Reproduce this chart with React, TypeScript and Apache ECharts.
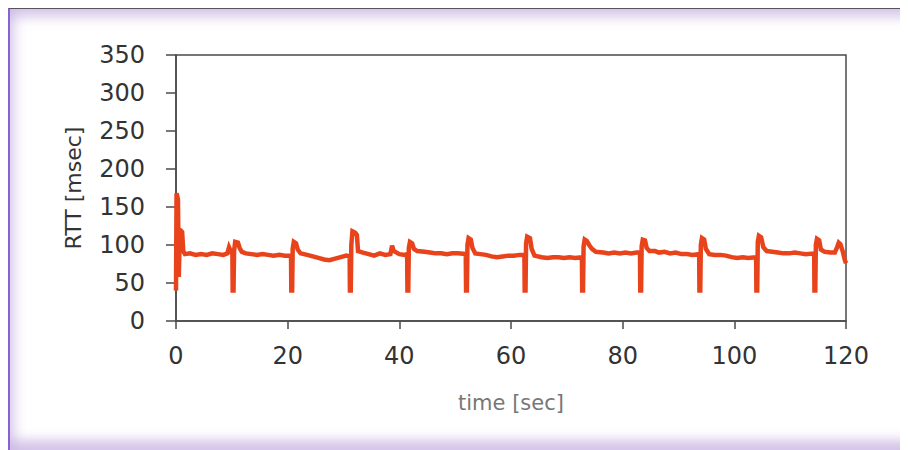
import React, { useEffect, useRef } from "react";
import * as echarts from "echarts";

const xTicks = [0, 20, 40, 60, 80, 100, 120];
const yTicks = [0, 50, 100, 150, 200, 250, 300, 350];

const timeSec = [
  0, 0.1, 0.35, 0.5, 0.7, 1.1, 1.3, 1.6, 2.5, 3.5, 4.5, 5.5, 6.5, 7.5, 8.5, 9.2, 9.5, 9.8, 10.1,
  10.15, 10.3, 10.4, 10.6, 11.1, 11.4, 11.8, 12.5, 13.5, 14.5, 15.5, 16.5, 17.5, 18.5, 19.5, 20.6,
  20.65, 20.8, 20.9, 21.1, 21.5, 21.8, 22.3, 23.5, 24.5, 25.5, 26.5, 27.5, 28.5, 29.5, 30.5, 31.1,
  31.15, 31.3, 31.4, 31.6, 32.1, 32.4, 32.6, 33.5, 34.5, 35.5, 36.5, 37.5, 38.4, 38.7, 39.0, 40.0, 41.0, 41.4,
  41.45, 41.6, 41.7, 41.9, 42.3, 42.6, 43.2, 44.5, 45.5, 46.5, 47.5, 48.5, 49.5, 50.5, 51.9,
  51.95, 52.1, 52.2, 52.4, 52.8, 53.1, 53.6, 54.5, 55.5, 56.5, 57.5, 58.5, 59.5, 60.5, 61.5, 62.4,
  62.45, 62.6, 62.7, 62.9, 63.4, 63.7, 64.2, 65.5, 66.5, 67.5, 68.5, 69.5, 70.5, 71.5, 72.7,
  72.75, 72.9, 73.0, 73.2, 73.6, 74.0, 74.5, 75.2, 76.5, 77.5, 78.5, 79.5, 80.5, 81.5, 82.5, 83.1,
  83.15, 83.3, 83.4, 83.6, 84.0, 84.3, 84.8, 85.8, 86.5, 87.5, 88.5, 89.5, 90.5, 91.5, 92.5, 93.7,
  93.75, 93.9, 94.0, 94.2, 94.6, 94.9, 95.5, 96.5, 97.5, 98.5, 99.5, 100.5, 101.5, 102.5, 103.9,
  103.95, 104.1, 104.2, 104.4, 104.8, 105.2, 105.8, 106.8, 107.8, 108.8, 109.8, 110.8, 111.8, 112.8, 114.3,
  114.35, 114.5, 114.6, 114.8, 115.2, 115.5, 116.2, 117.2, 118.0, 118.4, 118.7, 119.0, 119.4, 119.8, 120,
];

const rttMs = [
  40, 168, 160, 58, 120, 117, 92, 88, 89, 87, 88, 87, 89, 88, 87, 89, 97, 92, 88,
  40, 40, 92, 104, 103, 96, 91, 89, 88, 87, 88, 87, 86, 87, 86, 86,
  40, 40, 95, 104, 102, 94, 89, 87, 85, 83, 81, 80, 82, 84, 86, 85,
  40, 40, 100, 118, 116, 113, 92, 90, 88, 86, 89, 87, 88, 99, 92, 88, 87, 88,
  40, 40, 96, 104, 102, 95, 92, 91, 90, 89, 89, 88, 89, 89, 88,
  40, 40, 100, 109, 107, 96, 89, 88, 87, 85, 84, 85, 86, 86, 87, 87,
  40, 40, 102, 111, 109, 95, 86, 84, 83, 84, 84, 83, 84, 83, 84,
  40, 40, 98, 107, 105, 100, 95, 91, 90, 89, 90, 89, 90, 89, 90, 90,
  40, 40, 98, 107, 106, 96, 92, 92, 90, 91, 89, 90, 88, 88, 87, 88,
  40, 40, 100, 109, 107, 95, 88, 87, 87, 86, 84, 83, 84, 83, 84,
  40, 40, 104, 112, 110, 97, 92, 91, 90, 89, 89, 90, 89, 88, 89,
  40, 40, 100, 108, 106, 94, 91, 90, 90, 97, 103, 101, 92, 80, 76,
];

const seriesData = timeSec.map((t, i) => [t, rttMs[i]]);

export default function App() {
  const ref = useRef<HTMLDivElement>(null);
  useEffect(() => {
    if (!ref.current) return;
    const chart = echarts.init(ref.current, null, { renderer: "svg" });
    const labelFont = "DejaVu Sans";
    chart.setOption({
      animation: false,
      grid: {
        left: 168,
        top: 47,
        right: 62,
        bottom: 129,
        show: true,
        borderColor: "#4a4a4a",
        borderWidth: 1.5,
        backgroundColor: "transparent",
      },
      xAxis: {
        type: "value",
        min: xTicks[0],
        max: xTicks[xTicks.length - 1],
        interval: 20,
        name: "time [sec]",
        nameLocation: "middle",
        nameGap: 71,
        nameTextStyle: { fontFamily: labelFont, fontSize: 21, color: "#777" },
        axisLine: { show: true, lineStyle: { color: "#4a4a4a", width: 1.5 } },
        axisTick: { show: true, length: 8, lineStyle: { color: "#4a4a4a", width: 1.5 } },
        axisLabel: { fontFamily: labelFont, fontSize: 24, color: "#333", margin: 23 },
        splitLine: { show: false },
      },
      yAxis: {
        type: "value",
        min: yTicks[0],
        max: yTicks[yTicks.length - 1],
        interval: 50,
        name: "RTT [msec]",
        nameLocation: "middle",
        nameGap: 92,
        nameTextStyle: { fontFamily: labelFont, fontSize: 22, color: "#333" },
        axisLine: { show: true, lineStyle: { color: "#4a4a4a", width: 1.5 } },
        axisTick: { show: true, length: 10, lineStyle: { color: "#4a4a4a", width: 1.5 } },
        axisLabel: { fontFamily: labelFont, fontSize: 24, color: "#333", margin: 31 },
        splitLine: { show: false },
      },
      series: [
        {
          type: "line",
          data: seriesData,
          showSymbol: false,
          symbol: "none",
          clip: true,
          lineStyle: { color: "#e8431b", width: 4.5, join: "miter" },
        },
      ],
    });
    return () => chart.dispose();
  }, []);

  return (
    <div style={{ position: "relative", width: 900, height: 442 }}>
      <div
        style={{
          position: "absolute",
          left: 0,
          top: 0,
          width: 900,
          height: 442,
          boxSizing: "border-box",
          borderTop: "1px solid #555",
          borderLeft: "2px solid #8a62d0",
          boxShadow:
            "inset 0 14px 12px -6px rgba(200,180,225,0.75), inset 0 -16px 12px -6px rgba(205,185,228,0.85), inset 14px 0 12px -8px rgba(205,190,232,0.6)",
        }}
      />
      <div ref={ref} style={{ position: "absolute", left: 0, top: 0, width: 900, height: 442 }} />
    </div>
  );
}
